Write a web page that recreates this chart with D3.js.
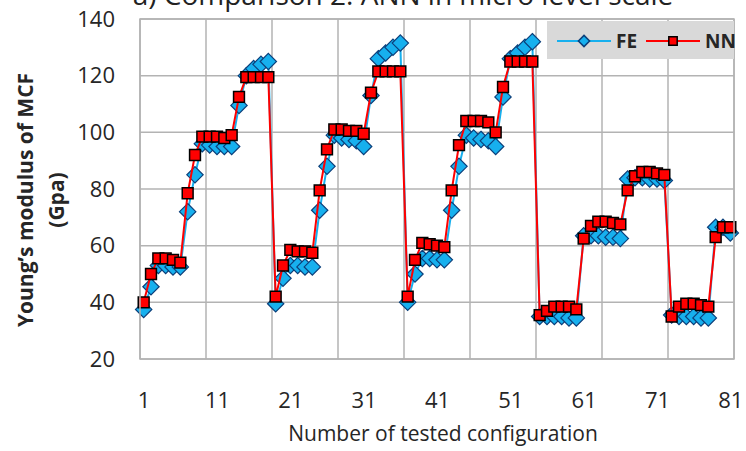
<!DOCTYPE html>
<html>
<head>
<meta charset="utf-8">
<script src="https://cdn.jsdelivr.net/npm/d3@7"></script>
<style>
  body { margin: 0; background: #fff; }
  svg { display: block; }
</style>
</head>
<body>
<div id="chart"></div>
<script>
'use strict';

var title = 'a) Comparison 2: ANN in micro level scale';
var xTitle = 'Number of tested configuration';
var yTitle = ['Young\u2019s modulus of MCF', '(Gpa)'];
var seriesNames = ['FE', 'NN'];
var xTicks = [1, 11, 21, 31, 41, 51, 61, 71, 81];
var yTicks = [20, 40, 60, 80, 100, 120, 140];

// configuration 1..81
var feValues = [
  37.5, 45.5, 53, 53, 52.5, 52.5, 72, 85, 96, 95.5,
  95, 95, 95, 109.5, 120, 122.5, 124, 125, 39.5, 48.5,
  53, 53, 52.5, 52.5, 72.5, 88, 99, 98, 97.5, 97,
  95, 113, 126, 128, 130, 131.5, 40, 50, 55.5, 55.5,
  55, 55, 72.5, 88, 99, 98, 97.5, 97, 95, 112.5,
  126, 128, 130, 132, 35, 35, 35, 35, 34.5, 34.5,
  63.5, 63.5, 63.5, 63, 63, 62.5, 83.5, 84, 84, 83.5,
  83.5, 83, 35.5, 35, 35, 35, 34.5, 34.5, 66.5, 66.5,
  64.5
];
var nnValues = [
  40, 50, 55.5, 55.5, 55, 54, 78.5, 92, 98.5, 98.5,
  98.5, 98, 99, 112.5, 119.5, 119.5, 119.5, 119.5, 42, 53,
  58.5, 58, 58, 57.5, 79.5, 94, 101, 101, 100.5, 100.5,
  99.5, 114, 121.5, 121.5, 121.5, 121.5, 42, 55, 61, 60.5,
  60, 59.5, 79.5, 95.5, 104, 104, 104, 103.5, 100, 116,
  125, 125, 125, 125, 35.5, 37, 38.5, 38.5, 38.5, 37.5,
  62.5, 67, 68.5, 68.5, 68, 67.5, 79.5, 84.5, 86, 86,
  85.5, 85, 35, 38.5, 39.5, 39.5, 39, 38.5, 63, 66.5,
  66.5
];

var width = 746;
var height = 451;
var margin = { top: 19, right: 12, bottom: 92, left: 140 };
var fontFamily = '"Open Sans", "Noto Sans", sans-serif';
var gridColor = '#b3b3b3';
var feColor = '#17b0ee';
var feStroke = '#0c3f7a';
var nnColor = '#ff0000';

function toPoints(values) {
  return values.map(function(v, i) {
    return { x: i + 1, y: v };
  });
}

function drawChart() {
  var svg = d3.select('#chart').append('svg')
    .attr('width', width)
    .attr('height', height);

  var x = d3.scaleLinear()
    .domain([0.5, feValues.length + 0.5])
    .range([margin.left, width - margin.right]);
  var y = d3.scaleLinear()
    .domain([20, 140])
    .range([height - margin.bottom, margin.top]);

  // title, cut by the top edge as in the source picture
  svg.append('text')
    .attr('x', 403)
    .attr('y', 5)
    .attr('text-anchor', 'middle')
    .style('font-family', fontFamily)
    .style('font-size', '28px')
    .style('fill', '#222')
    .text(title);

  // grid
  svg.append('g').selectAll('line')
    .data(yTicks)
    .enter()
    .append('line')
    .attr('x1', x.range()[0])
    .attr('x2', x.range()[1])
    .attr('y1', function(d) { return y(d); })
    .attr('y2', function(d) { return y(d); })
    .attr('stroke', gridColor)
    .attr('stroke-width', 1.5);

  svg.append('g').selectAll('line')
    .data(d3.range(0.5, feValues.length + 1, 9))
    .enter()
    .append('line')
    .attr('x1', function(d) { return x(d); })
    .attr('x2', function(d) { return x(d); })
    .attr('y1', y.range()[0])
    .attr('y2', y.range()[1])
    .attr('stroke', gridColor)
    .attr('stroke-width', 1.5);

  // axes labels
  var yAxis = svg.append('g')
    .attr('transform', 'translate(115,0)')
    .call(d3.axisLeft(y).tickValues(yTicks).tickSize(0).tickPadding(0));
  yAxis.select('.domain').remove();
  yAxis.selectAll('text')
    .style('font-family', fontFamily)
    .style('font-size', '22px')
    .style('fill', '#262626');

  var xAxis = svg.append('g')
    .attr('transform', 'translate(0,' + 392 + ')')
    .call(d3.axisBottom(x).tickValues(xTicks).tickSize(0).tickPadding(0));
  xAxis.select('.domain').remove();
  xAxis.selectAll('text')
    .style('font-family', fontFamily)
    .style('font-size', '22px')
    .style('fill', '#262626');

  svg.append('text')
    .attr('x', 443)
    .attr('y', 441)
    .attr('text-anchor', 'middle')
    .style('font-family', fontFamily)
    .style('font-size', '21px')
    .style('fill', '#262626')
    .text(xTitle);

  var yTitleG = svg.append('g')
    .attr('transform', 'translate(0,200) rotate(-90)');
  yTitleG.selectAll('text')
    .data(yTitle)
    .enter()
    .append('text')
    .attr('x', 0)
    .attr('y', function(d, i) { return 33 + i * 31; })
    .attr('text-anchor', 'middle')
    .style('font-family', fontFamily)
    .style('font-size', '21px')
    .style('font-weight', 'bold')
    .style('fill', '#262626')
    .text(function(d) { return d; });

  var line = d3.line()
    .x(function(d) { return x(d.x); })
    .y(function(d) { return y(d.y); });

  var diamond = d3.symbol().type(d3.symbolDiamond2).size(170);
  var square = d3.symbol().type(d3.symbolSquare2).size(150);

  // FE
  var fe = toPoints(feValues);
  svg.append('path')
    .datum(fe)
    .attr('d', line)
    .attr('fill', 'none')
    .attr('stroke', feColor)
    .attr('stroke-width', 2);
  svg.append('g').selectAll('path')
    .data(fe)
    .enter()
    .append('path')
    .attr('transform', function(d) {
      return 'translate(' + x(d.x) + ',' + y(d.y) + ')';
    })
    .attr('d', diamond)
    .attr('fill', feColor)
    .attr('stroke', feStroke)
    .attr('stroke-width', 1.2);

  // NN
  var nn = toPoints(nnValues);
  svg.append('path')
    .datum(nn)
    .attr('d', line)
    .attr('fill', 'none')
    .attr('stroke', nnColor)
    .attr('stroke-width', 2);
  svg.append('g').selectAll('path')
    .data(nn)
    .enter()
    .append('path')
    .attr('transform', function(d) {
      return 'translate(' + x(d.x) + ',' + y(d.y) + ')';
    })
    .attr('d', square)
    .attr('fill', nnColor)
    .attr('stroke', '#000')
    .attr('stroke-width', 1.5);

  // plot border
  svg.append('rect')
    .attr('x', x.range()[0])
    .attr('y', y.range()[1])
    .attr('width', x.range()[1] - x.range()[0])
    .attr('height', y.range()[0] - y.range()[1])
    .attr('fill', 'none')
    .attr('stroke', gridColor)
    .attr('stroke-width', 1.5);

  // legend
  var legend = svg.append('g').attr('transform', 'translate(547,21)');
  legend.append('rect')
    .attr('width', 187)
    .attr('height', 38)
    .attr('fill', '#d9d9d9');
  var items = legend.selectAll('g')
    .data(seriesNames)
    .enter()
    .append('g')
    .attr('transform', function(d, i) { return 'translate(' + (10 + i * 89) + ',20)'; });
  items.append('line')
    .attr('x1', 0)
    .attr('x2', 54)
    .attr('stroke', function(d, i) { return i === 0 ? feColor : nnColor; })
    .attr('stroke-width', 2);
  items.append('path')
    .attr('transform', 'translate(27,0)')
    .attr('d', function(d, i) {
      return i === 0 ? d3.symbol().type(d3.symbolDiamond2).size(80)() : d3.symbol().type(d3.symbolSquare2).size(90)();
    })
    .attr('fill', function(d, i) { return i === 0 ? feColor : nnColor; })
    .attr('stroke', function(d, i) { return i === 0 ? feStroke : '#000'; })
    .attr('stroke-width', 1.5);
  items.append('text')
    .attr('x', 59)
    .attr('y', 7)
    .style('font-family', fontFamily)
    .style('font-size', '19px')
    .style('font-weight', 'bold')
    .style('fill', '#262626')
    .text(function(d) { return d; });
}

drawChart();
</script>
</body>
</html>
